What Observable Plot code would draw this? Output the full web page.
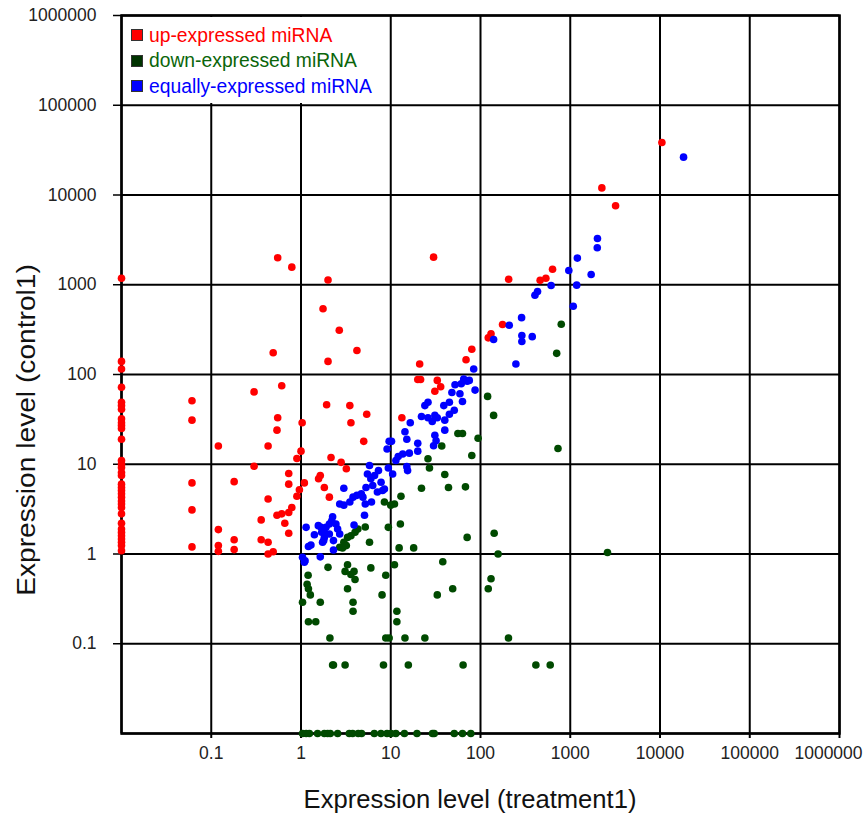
<!DOCTYPE html>
<html><head><meta charset="utf-8">
<script src="https://cdn.jsdelivr.net/npm/d3@7"></script>
<script src="https://cdn.jsdelivr.net/npm/@observablehq/plot@0.6"></script>
<style>
body{margin:0;background:#fff;font-family:"Liberation Sans",Arial,sans-serif}
#wrap{position:relative;width:864px;height:818px}
#legend{position:absolute;left:123px;top:17px;width:265px;height:86px;background:#fff}
.item{position:absolute;left:8px;display:flex;align-items:center;font-size:19.3px;white-space:nowrap;line-height:1}
.sw{width:12px;height:12px;border:1px solid #333;margin-right:6px;box-sizing:border-box}
.title{position:absolute;white-space:nowrap;line-height:1;color:#111;font-size:25.6px}
#xt{left:470px;top:800px;transform:translate(-50%,-50%)}
#yt{left:27px;top:430px;transform:translate(-50%,-50%) rotate(-90deg) scaleX(1.1)}
</style></head><body><div id="wrap"><div id="legend"></div><div id="xt" class="title"></div><div id="yt" class="title"></div></div>
<script>
// ---- data ----
const groups = ["up-expressed miRNA", "down-expressed miRNA", "equally-expressed miRNA"];
const xTitle = "Expression level (treatment1)";
const yTitle = "Expression level (control1)";
const tickValues = [0.1, 1, 10, 100, 1000, 10000, 100000];
const lastTick = [1000000];
const gridValues = [0.01, 0.1, 1, 10, 100, 1000, 10000, 100000, 1000000];

// up-expressed (red)
const upX = [
  0.01,0.01,0.01,0.01,0.01,0.01,0.01,0.01,0.01,0.01,0.01,0.01,0.01,0.01,0.01,0.01,0.01,
  0.01,0.01,0.01,0.01,0.01,0.01,0.01,0.01,0.01,0.01,0.01,0.01,0.01,0.01,0.01,0.01,0.01,
  0.061,0.061,0.061,0.061,0.061,
  10500,2250,3200,635,535,462,206,30,0.55,0.79,2.0,1.76,2.67,0.49,4.2,2.0,176,131,122,80,69,21,20,21.5,33,36,31,
  0.61,0.30,1.93,0.55,1.03,0.54,0.12,0.43,0.90,1.0,0.30,0.73,0.73,1.09,0.18,0.43,0.96,0.90,0.79,0.73,
  0.61,0.54,0.36,0.66,0.73,0.12,0.18,0.36,0.43,0.12,0.12,0.18,0.49,0.43,
  3.5,3.6,5.4,5.0,13.3,2.16,2.8,3.2,1.64,1.57,1.82,2.07
];
const upY = [
  1180,140,115,72,49,45,41,32,29,27,25,19,11,10,9.2,8.1,7.5,
  6.0,5.5,5.1,4.7,4.3,3.9,3.6,3.3,2.8,2.2,1.9,1.74,1.6,1.47,1.35,1.24,1.09,
  51,31,6.2,3.1,1.2,
  38500,12000,7600,1490,1180,1120,1150,2030,2000,1570,1130,540,311,175,185,140,360,284,256,191,146,131,88,88,86,73,65,
  75,64,46,33,29,24,16,16,11.6,14,9.5,7.9,6.0,6.2,6.4,4.1,5.2,4.4,3.3,2.9,
  2.8,2.7,2.4,2.2,1.7,1.87,1.44,1.44,1.35,1.24,1.07,1.12,1.06,1.0,
  45,29,36,18,33,11.9,10.5,8.9,7.5,6.9,5.5,4.3
];

// down-expressed (dark green)
const downX = [
  794,706,730,120,140,56,63,94,37,80,26,27,40,22,44,68,13,8.5,11,10,
  12.8,9.4,5.2,4.3,4.0,3.6,3.3,3.0,2.7,2.9,3.2,5.8,12.4,18,71,142,157,2600,
  38,11,1.2,2.0,3.3,3.1,3.6,3.9,4.0,6.0,8.8,131,122,49,33,205,8.0,11.7,11.7,
  3.3,3.8,3.8,1.17,1.21,1.27,1.04,1.64,1.21,1.46,2.1,8.8,9.6,14.4,24,
  2.25,2.3,3.1,8.3,15.7,64,414,598,
  1.04,1.14,1.24,1.53,1.82,1.98,2.12,2.56,3.45,3.76,4.34,4.73,6.56,7.78,9.08,10.05,11.4,14.2,19.6,29.2,30.5,51,63,78
];
const downY = [
  363,172,15,57,35,22,22,19.5,16,12.5,11.5,9.1,7.7,5.4,5.5,5.6,4.4,3.8,3.6,3.5,
  2.16,1.98,2.0,1.9,1.75,1.6,1.53,1.35,1.19,1.17,1.24,1.35,1.17,1.17,1.53,1.7,1.0,1.04,
  0.82,0.76,0.58,0.71,0.76,0.64,0.59,0.64,0.52,0.70,0.58,0.53,0.41,0.41,0.35,0.116,0.35,0.23,0.176,
  0.41,0.29,0.23,0.46,0.41,0.35,0.29,0.29,0.176,0.176,0.116,0.116,0.116,0.116,0.116,
  0.058,0.058,0.058,0.058,0.058,0.058,0.058,0.058,
  0.01,0.01,0.01,0.01,0.01,0.01,0.01,0.01,0.01,0.01,0.01,0.01,0.01,0.01,0.01,0.01,0.01,0.01,0.01,0.01,0.01,0.01,0.01,0.01
];

// equally-expressed (blue)
const eqX = [
  18300,2010,2000,1200,964,1710,612,1180,432,404,1080,287,209,140,289,289,377,248,84,
  65,71,75,52,61,87,48,59,45,39,63,51,45,26,24,22,26,29,31,33,40,40,16.5,14.4,15.1,31,32,30,20,
  9.6,10.2,9.1,13.6,16.1,20,12.1,11.4,9.4,10.5,15.1,15.4,5.8,7.3,6.6,5.5,6.0,5.3,6.3,7.8,8.1,7.1,8.5,
  4.7,4.9,4.2,3.8,3.5,3.0,2.7,3.0,5.2,6.1,5.1,3.9,2.25,2.2,2.45,2.56,1.9,1.82,2.07,1.67,1.41,1.56,1.14,
  1.79,2.3,2.7,1.21,1.29,1.04,1.11,1.64,2.3,1.7,1.82,1.74,1.09,2.07
];
const eqY = [
  26400,3270,2580,1980,1440,1300,980,990,840,764,576,430,354,245,272,233,264,131,115,
  89,84,86,77,79,67,63,61,49,45,50,40,36,49,45,34,33,30,35,33,31,24,29,23,19,21,18.3,16.1,17.1,
  18,18,14.8,13,13.3,14,12.2,11,9.1,7.8,9.4,8.5,9.7,8.5,7.5,7.8,6.9,5.5,5.8,6.3,5.1,4.9,5.3,
  4.7,4.3,4.5,4.3,3.8,3.5,3.6,5.4,3.6,3.8,2.7,2.1,2.6,2.35,2.16,1.9,1.98,1.75,1.67,1.98,1.64,2.07,1.98,
  1.41,1.41,1.67,1.21,1.26,0.92,0.84,0.93,1.11,1.75,1.53,1.35,0.81,2.16
];

const colors = ["#ff0000", "#004a00", "#0000ff"];
const legendSwatch = ["#ff0000", "#003300", "#0000ff"];
const legendText = ["#ff0000", "#0a650a", "#0000ff"];

const up = upX.map((x, i) => ({x, y: upY[i]}));
const down = downX.map((x, i) => ({x, y: downY[i]}));
const eq = eqX.map((x, i) => ({x, y: eqY[i]}));
const fmt = d => String(d);

const tickStyle = {tickSize: 5, tickPadding: 8, tickFormat: fmt, fontSize: 17.5, label: null, strokeWidth: 2, fill: "#222"};

const plot = Plot.plot({
  width: 864, height: 818,
  marginLeft: 121, marginRight: 25, marginTop: 15, marginBottom: 85,
  x: {type: "log", domain: [0.01, 1e6]},
  y: {type: "log", domain: [0.01, 1e6]},
  style: {fontFamily: "'Liberation Sans', Arial, sans-serif", background: "white", color: "black"},
  marks: [
    Plot.gridX(gridValues, {stroke: "black", strokeOpacity: 1, strokeWidth: 2}),
    Plot.gridY(gridValues, {stroke: "black", strokeOpacity: 1, strokeWidth: 2}),
    Plot.axisX(tickValues, tickStyle),
    Plot.axisX(lastTick, {...tickStyle, tickSize: 0, tickPadding: 13, dx: -11}),
    Plot.axisX(lastTick, {...tickStyle, tickFormat: () => ""}),
    Plot.axisY(tickValues.concat(lastTick), {tickSize: 8, tickPadding: 17, tickFormat: fmt, fontSize: 17.5, label: null, strokeWidth: 1.5, fill: "#222"}),
    Plot.frame({stroke: "black", strokeWidth: 2.5}),
    Plot.dot(up, {x: "x", y: "y", r: 3.8, fill: colors[0]}),
    Plot.dot(down, {x: "x", y: "y", r: 3.8, fill: colors[1]}),
    Plot.dot(eq, {x: "x", y: "y", r: 3.8, fill: colors[2]})
  ]
});
document.getElementById("wrap").prepend(plot);
document.getElementById("xt").textContent = xTitle;
document.getElementById("yt").textContent = yTitle;

const legend = document.getElementById("legend");
const tops = [17.5, 43, 68.5];
groups.forEach((g, i) => {
  const it = document.createElement("div");
  it.className = "item";
  it.style.top = (tops[i] - 9) + "px";
  it.style.color = legendText[i];
  it.innerHTML = `<span class="sw" style="background:${legendSwatch[i]}"></span><span>${g}</span>`;
  legend.appendChild(it);
});
</script>
</body></html>
